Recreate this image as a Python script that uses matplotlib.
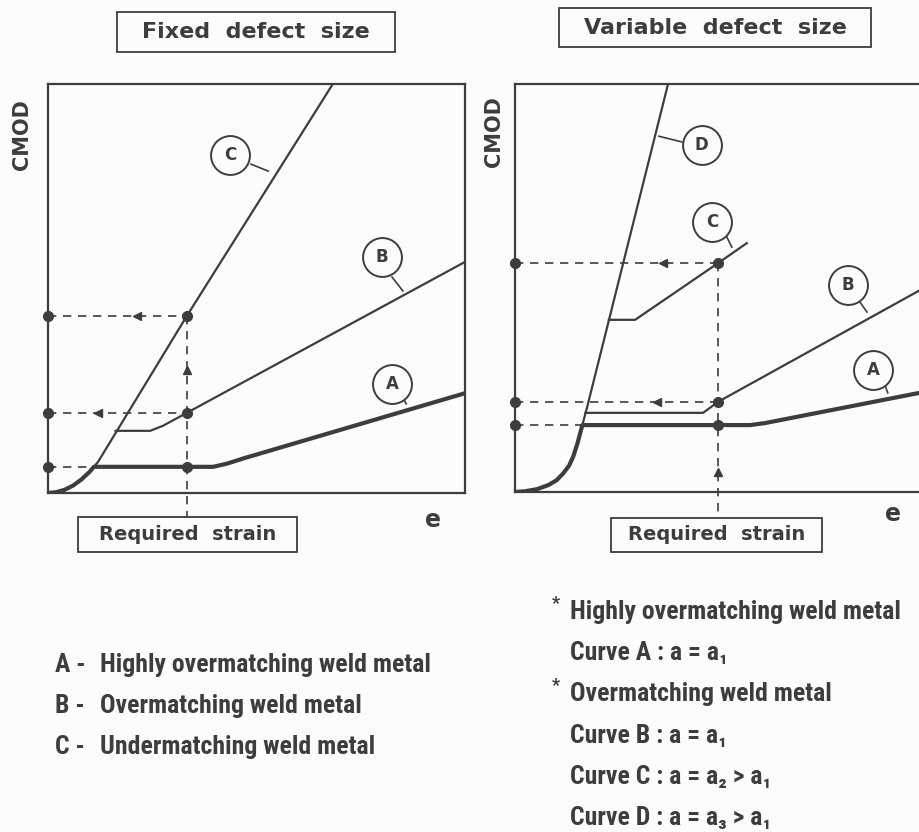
import matplotlib.pyplot as plt
from matplotlib.patches import Rectangle

# ---- data (e on x, CMOD on y, arbitrary 0-10 units) ----
# left panel: fixed defect size
L_req = 3.33
L_A_x = [0, 0.2, 0.4, 0.6, 0.8, 1.0, 1.1, 3.96, 4.3, 4.7, 10]
L_A_y = [0, 0.02, 0.08, 0.18, 0.33, 0.52, 0.64, 0.64, 0.72, 0.85, 2.44]
L_B_x = [1.62, 2.45, 2.75, 3.33, 10]
L_B_y = [1.52, 1.52, 1.64, 1.96, 5.65]
L_C_x = [0, 0.2, 0.4, 0.6, 0.8, 1.0, 1.2, 3.33, 6.83]
L_C_y = [0, 0.02, 0.08, 0.18, 0.33, 0.52, 0.76, 4.33, 10.0]
L_levels = [4.33, 1.96, 0.64]
L_dash_end = [L_req, L_req, 1.1]
L_arrows = [2.13, 1.2]
L_arrow_up = 3.0
L_labels = {'A': (8.25, 2.67, 8.49, 2.37, 8.59, 2.18),
            'B': (8.01, 5.77, 8.25, 5.28, 8.51, 4.94),
            'C': (4.36, 8.26, 4.87, 8.04, 5.28, 7.87)}

# right panel: variable defect size
R_req = 4.87
R_A_x = [0, 0.25, 0.53, 0.8, 1.0, 1.15, 1.3, 1.4, 1.5, 1.615, 5.64, 6.0, 6.35, 10]
R_A_y = [0, 0.02, 0.07, 0.17, 0.29, 0.45, 0.65, 0.88, 1.2, 1.64, 1.64, 1.69, 1.76, 2.49]
R_B_x = [1.69, 4.51, 4.87, 10]
R_B_y = [1.94, 1.94, 2.21, 5.11]
R_C_x = [2.25, 2.88, 4.87, 5.56]
R_C_y = [4.22, 4.22, 5.61, 6.10]
R_D_x = [1.615, 1.73, 3.67]
R_D_y = [1.64, 2.08, 10]
R_levels = [5.61, 2.21, 1.64]
R_dash_end = [R_req, R_req, 1.615]
R_arrows = [3.55, 3.41]
R_arrow_up = 0.49
R_labels = {'A': (8.59, 2.99, 8.87, 2.62, 8.94, 2.43),
            'B': (7.99, 5.07, 8.27, 4.66, 8.44, 4.41),
            'C': (4.72, 6.62, 5.08, 6.25, 5.20, 6.00),
            'D': (4.48, 8.50, 4.00, 8.58, 3.45, 8.72)}

left_notes = ['A -', 'B -', 'C -']
left_texts = ['Highly overmatching weld metal', 'Overmatching weld metal',
              'Undermatching weld metal']
right_texts = ['Highly overmatching weld metal', 'Curve A : a = a\u2081',
               'Overmatching weld metal', 'Curve B : a = a\u2081',
               'Curve C : a = a\u2082 > a\u2081', 'Curve D : a = a\u2083 > a\u2081']
right_star = [True, False, True, False, False, False]

INK = '#3d3d3d'
W, H = 920, 832


def fx(px):
    return px / W


def fy(py):
    return 1 - py / H


fig = plt.figure(figsize=(9.2, 8.32), dpi=100, facecolor='#fcfcfc')
ax1 = fig.add_axes([fx(48), fy(493), 417 / W, 409 / H])
ax2 = fig.add_axes([fx(515), fy(492), 417 / W, 408 / H])


def setup(ax):
    ax.set_xlim(0, 10)
    ax.set_ylim(0, 10)
    ax.set_xticks([])
    ax.set_yticks([])
    ax.set_facecolor('#fcfcfc')
    for s in ax.spines.values():
        s.set_color(INK)
        s.set_linewidth(1.6)


def draw_panel(ax, req, levels, dash_end, arrows, arrow_up, labels):
    dash = (0, (5, 4))
    for lev, end in zip(levels, dash_end):
        ax.plot([0, end], [lev, lev], color=INK, lw=1.2, ls=dash, clip_on=False)
    ax.plot([req, req], [levels[0], -0.62], color=INK, lw=1.2, ls=dash, clip_on=False)
    for ax_x, lev in zip(arrows, levels[:2]):
        ax.plot(ax_x, lev, marker='<', ms=6, color=INK, clip_on=False)
    ax.plot(req, arrow_up, marker='^', ms=6, color=INK, clip_on=False)
    for lev in levels:
        ax.plot([0, req], [lev, lev], 'o', ms=7, color=INK, ls='none', clip_on=False, zorder=5)
    for name, (cx, cy, x0, y0, x1, y1) in labels.items():
        ax.plot([x0, x1], [y0, y1], color=INK, lw=1.2)
        ax.plot(cx, cy, 'o', ms=28, mfc='#fcfcfc', mec=INK, mew=1.4, zorder=6)
        ax.text(cx, cy, name, ha='center', va='center', fontsize=12,
                fontweight='bold', color=INK, family='DejaVu Sans', zorder=7)


setup(ax1)
setup(ax2)

ax1.plot(L_C_x, L_C_y, color=INK, lw=1.6)
ax1.plot(L_B_x, L_B_y, color=INK, lw=1.6)
ax1.plot(L_A_x, L_A_y, color=INK, lw=3.0, solid_capstyle='round', solid_joinstyle='round')
draw_panel(ax1, L_req, L_levels, L_dash_end, L_arrows, L_arrow_up, L_labels)

ax2.plot(R_D_x, R_D_y, color=INK, lw=1.6)
ax2.plot(R_C_x, R_C_y, color=INK, lw=1.6)
ax2.plot(R_B_x, R_B_y, color=INK, lw=1.6)
ax2.plot(R_A_x, R_A_y, color=INK, lw=3.0, solid_capstyle='round', solid_joinstyle='round')
draw_panel(ax2, R_req, R_levels, R_dash_end, R_arrows, R_arrow_up, R_labels)

# boxed captions
bold = dict(family='DejaVu Sans', fontweight='bold', color=INK)
boxes = [(117, 12, 395, 52, 'Fixed  defect  size', 16),
         (559, 8, 871, 47, 'Variable  defect  size', 16),
         (78, 517, 297, 552, 'Required  strain', 14),
         (611, 518, 822, 552, 'Required  strain', 14)]
for x0, y0, x1, y1, txt, size in boxes:
    fig.add_artist(Rectangle((fx(x0), fy(y1)), (x1 - x0) / W, (y1 - y0) / H,
                             transform=fig.transFigure, fill=False, ec=INK, lw=1.3))
    fig.text(fx((x0 + x1) / 2), fy((y0 + y1) / 2), txt, ha='center', va='center',
             fontsize=size, **bold)

fig.text(fx(22), fy(135), 'CMOD', rotation=90, ha='center', va='center', fontsize=15, **bold)
fig.text(fx(494), fy(132), 'CMOD', rotation=90, ha='center', va='center', fontsize=15, **bold)
fig.text(fx(433), fy(520), 'e', ha='center', va='center', fontsize=17, **bold)
fig.text(fx(893), fy(514), 'e', ha='center', va='center', fontsize=17, **bold)

# notes under the panels
narrow = dict(family=['Roboto Condensed', 'Roboto', 'DejaVu Sans'], fontweight='bold',
              fontstretch='condensed', color=INK, va='center')
for i, (n, t) in enumerate(zip(left_notes, left_texts)):
    y = 665 + i * 41
    fig.text(fx(55), fy(y), n, fontsize=18.5, **narrow)
    fig.text(fx(100), fy(y), t, fontsize=18.5, **narrow)
for i, (t, star) in enumerate(zip(right_texts, right_star)):
    y = 612 + i * 41.2
    if star:
        fig.text(fx(552), fy(y - 8), '*', fontsize=13, **narrow)
    fig.text(fx(570), fy(y), t, fontsize=18.5, **narrow)

fig.savefig('out.png', dpi=100, facecolor=fig.get_facecolor())
